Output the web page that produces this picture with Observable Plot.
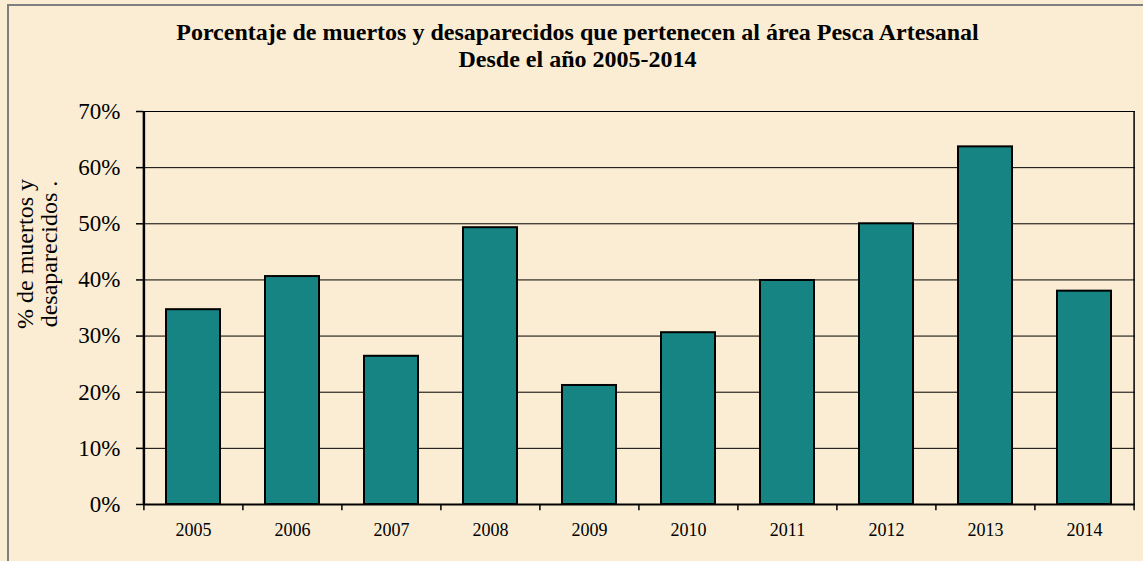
<!DOCTYPE html>
<html>
<head>
<meta charset="utf-8">
<script src="https://cdn.jsdelivr.net/npm/d3@7"></script>
<script src="https://cdn.jsdelivr.net/npm/@observablehq/plot@0.6"></script>
<style>
  body { margin: 0; background: #ffffff; }
  #wrap { position: relative; width: 1143px; height: 561px; overflow: hidden; background: #FAEDD3; }
  #border { position: absolute; left: 7px; top: 4px; width: 1200px; height: 600px; border: 2px solid #7f7f7f; box-sizing: border-box; }
  #title { position: absolute; left: 0; top: 19px; width: 1155px; text-align: center;
           font-family: 'Liberation Serif', 'Times New Roman', serif; font-weight: bold; font-size: 24px;
           line-height: 27px; color: #000; }
  #ylab { position: absolute; left: -72px; top: 229px; width: 220px; height: 50px; text-align: center;
          font-family: 'Liberation Serif', 'Times New Roman', serif; font-size: 24px; line-height: 24px; color: #000;
          transform: rotate(-90deg); transform-origin: 50% 50%; }
  #chart { position: absolute; left: 0; top: 0; }
  #chart svg text { font-family: 'Liberation Serif', 'Times New Roman', serif; }
</style>
</head>
<body>
<div id="wrap">
  <div id="border"></div>
  <div id="title">Porcentaje de muertos y desaparecidos que pertenecen al área Pesca Artesanal<br>Desde el año 2005-2014</div>
  <div id="ylab">% de muertos y<br>desaparecidos .</div>
  <div id="chart"></div>
</div>
<script>
const years = ["2005", "2006", "2007", "2008", "2009", "2010", "2011", "2012", "2013", "2014"];
const values = [34.7, 40.6, 26.4, 49.3, 21.2, 30.6, 39.9, 50.0, 63.7, 38.0];
const yTicks = [0, 10, 20, 30, 40, 50, 60, 70];

const data = years.map((year, i) => ({ year, value: values[i] }));
const half = 49.6; // half band step in px

const chart = Plot.plot({
  width: 1143,
  height: 561,
  marginLeft: 143,
  marginRight: 8,
  marginTop: 111,
  marginBottom: 57,
  style: { background: "transparent", fontFamily: "'Liberation Serif', 'Times New Roman', serif", color: "#000" },
  x: { domain: years, paddingInner: 0.45, paddingOuter: 0.225 },
  y: { domain: [0, 70] },
  marks: [
    Plot.ruleY(yTicks, { stroke: "#000", strokeWidth: 1 }),
    Plot.ruleX([years[years.length - 1]], { dx: half, y1: 0, y2: 70, stroke: "#000", strokeWidth: 1.5 }),
    Plot.barY(data, { x: "year", y: "value", fill: "#168482", stroke: "#000", strokeWidth: 2 }),
    Plot.ruleX(years, { x: d => d, dx: -half, y1: 0, y2: -1.1, stroke: "#000", strokeWidth: 1.5 }),
    Plot.ruleX([years[years.length - 1]], { dx: half, y1: 0, y2: -1.1, stroke: "#000", strokeWidth: 1.5 }),
    Plot.ruleY([0], { stroke: "#000", strokeWidth: 2 }),
    Plot.ruleX([years[0]], { dx: -half, y1: 0, y2: 70, stroke: "#000", strokeWidth: 2.5 }),
    Plot.axisY({ ticks: yTicks, tickFormat: d => d + "%", tickSize: 7, tickPadding: 16, fontSize: 23, label: null, stroke: "#000", strokeWidth: 1.5 }),
    Plot.axisX({ tickSize: 0, tickPadding: 19, fontSize: 18, label: null })
  ]
});
document.getElementById("chart").appendChild(chart);
</script>
</body>
</html>
